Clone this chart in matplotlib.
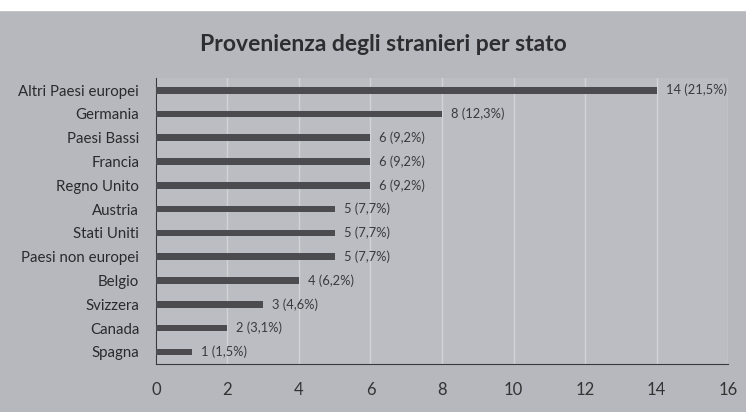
import matplotlib.pyplot as plt
from matplotlib.patches import Rectangle

# dati (dall'alto verso il basso)
paesi = ['Altri Paesi europei', 'Germania', 'Paesi Bassi', 'Francia', 'Regno Unito',
         'Austria', 'Stati Uniti', 'Paesi non europei', 'Belgio', 'Svizzera',
         'Canada', 'Spagna']
valori = [14, 8, 6, 6, 6, 5, 5, 5, 4, 3, 2, 1]
etichette = ['14 (21,5%)', '8 (12,3%)', '6 (9,2%)', '6 (9,2%)', '6 (9,2%)',
             '5 (7,7%)', '5 (7,7%)', '5 (7,7%)', '4 (6,2%)', '3 (4,6%)',
             '2 (3,1%)', '1 (1,5%)']
xticks = [0, 2, 4, 6, 8, 10, 12, 14, 16]

plt.rcParams['font.family'] = ['Lato', 'DejaVu Sans']

fig = plt.figure(figsize=(7.46, 4.12), dpi=100, facecolor='#b7b8bd')
# striscia bianca in alto (foto)
fig.patches.append(Rectangle((0, 0.975), 1, 0.025, transform=fig.transFigure,
                             color='white', zorder=0))
ax = fig.add_axes([0.209, 0.117, 0.767, 0.693])
ax.set_facecolor('#bcbdc2')

pos = list(range(len(paesi)))[::-1]
ax.barh(pos, valori, height=0.28, color='#4b4b50', zorder=3)
for p, v, t in zip(pos, valori, etichette):
    ax.text(v + 0.25, p, t, va='center', ha='left', fontsize=9.3, color='#3a3a3e')

ax.set_xlim(0, 16)
ax.set_ylim(-0.5, len(paesi) - 0.5)
ax.set_xticks(xticks)
ax.set_xticklabels([str(x) for x in xticks], fontsize=12, color='#333336')
ax.set_yticks(pos)
ax.set_yticklabels(paesi, fontsize=10.8, color='#2a2a2e')
ax.tick_params(axis='both', length=0)
ax.tick_params(axis='x', pad=13)
ax.tick_params(axis='y', pad=12)
ax.grid(axis='x', color='#d2d3d7', linewidth=1, zorder=0)
for s in ['top', 'right']:
    ax.spines[s].set_visible(False)
ax.spines['left'].set_color('#3a3a3e')
ax.spines['bottom'].set_color('#3a3a3e')

fig.text(0.514, 0.893, 'Provenienza degli stranieri per stato', ha='center', va='center',
         fontsize=16.5, fontweight='bold', color='#2e2e32')

fig.savefig('out.png', dpi=100, facecolor=fig.get_facecolor())
